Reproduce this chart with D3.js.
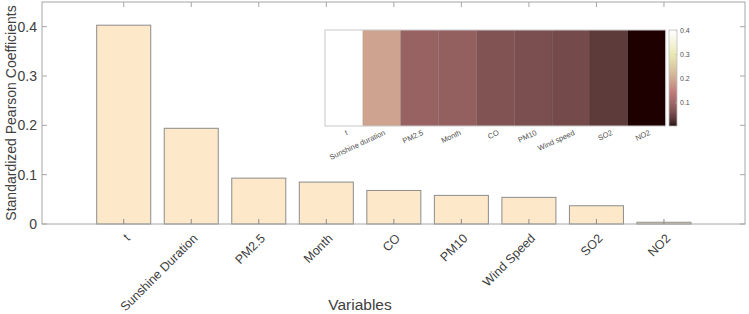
<!DOCTYPE html>
<html>
<head>
<meta charset="utf-8">
<script src="https://cdn.jsdelivr.net/npm/d3@7"></script>
<style>
  html, body { margin: 0; padding: 0; background: #fff; }
  svg { display: block; font-family: "Liberation Sans", Arial, sans-serif; }
</style>
</head>
<body>
<div id="chart"></div>
<script>
// 变量及标准化皮尔逊系数
const categories = ["t", "Sunshine Duration", "PM2.5", "Month", "CO", "PM10", "Wind Speed", "SO2", "NO2"];
const heatLabels = ["t", "Sunshine duration", "PM2.5", "Month", "CO", "PM10", "Wind speed", "SO2", "NO2"];
const coefficients = [0.403, 0.194, 0.093, 0.085, 0.068, 0.058, 0.054, 0.037, 0.0035];
const yTicks = [0, 0.1, 0.2, 0.3, 0.4];
const cbTicks = [0.1, 0.2, 0.3, 0.4];

const width = 749, height = 314;
const margin = {top: 2, right: 4, bottom: 90, left: 42};
const plotW = width - margin.left - margin.right;
const plotH = height - margin.top - margin.bottom;

const axisColor = '#a6a6a6';
const textColor = '#404040';

// MATLAB pink colormap (64 levels)
function pinkColor(t) {
    const m = 64;
    let i = Math.round(t * (m - 1));
    i = Math.max(0, Math.min(m - 1, i));
    const n = Math.floor(3 / 8 * m);
    const g0 = i / (m - 1);
    const hr = i < n ? (i + 1) / n : 1;
    const hg = i < n ? 0 : (i < 2 * n ? (i - n + 1) / n : 1);
    const hb = i < 2 * n ? 0 : (i - 2 * n + 1) / (m - 2 * n);
    const f = v => Math.round(255 * Math.sqrt((2 * g0 + v) / 3));
    return `rgb(${f(hr)},${f(hg)},${f(hb)})`;
}

const svg = d3.select('#chart')
    .append('svg')
    .attr('width', width)
    .attr('height', height);

const g = svg.append('g')
    .attr('transform', `translate(${margin.left},${margin.top})`);

const x = d3.scaleLinear()
    .domain([-0.21, 10.2])
    .range([0, plotW]);

const y = d3.scaleLinear()
    .domain([0, 0.45])
    .range([plotH, 0]);

const barW = x(0.8) - x(0);

// 柱子
g.selectAll('rect.bar')
    .data(coefficients)
    .join('rect')
    .attr('class', 'bar')
    .attr('x', (d, i) => x(i + 1) - barW / 2)
    .attr('y', d => y(d))
    .attr('width', barW)
    .attr('height', d => plotH - y(d))
    .attr('fill', '#fde9c9')
    .attr('stroke', '#8c8c8c')
    .attr('stroke-width', 1);

// 坐标轴框
g.append('rect')
    .attr('x', 0).attr('y', 0)
    .attr('width', plotW).attr('height', plotH)
    .attr('fill', 'none')
    .attr('stroke', axisColor)
    .attr('stroke-width', 1);

const tickLen = 5;
// x 刻度（上下，向内）
categories.forEach((c, i) => {
    const xp = x(i + 1);
    g.append('line').attr('x1', xp).attr('x2', xp).attr('y1', plotH).attr('y2', plotH - tickLen).attr('stroke', '#8c8c8c');
    g.append('line').attr('x1', xp).attr('x2', xp).attr('y1', 0).attr('y2', tickLen).attr('stroke', axisColor);
});
// y 刻度（左右，向内）
yTicks.forEach(v => {
    const yp = y(v);
    g.append('line').attr('x1', 0).attr('x2', tickLen).attr('y1', yp).attr('y2', yp).attr('stroke', axisColor);
    g.append('line').attr('x1', plotW).attr('x2', plotW - tickLen).attr('y1', yp).attr('y2', yp).attr('stroke', axisColor);
});

// y 刻度标签
g.selectAll('text.ytick')
    .data(yTicks)
    .join('text')
    .attr('class', 'ytick')
    .attr('x', -5)
    .attr('y', d => y(d))
    .attr('dy', '0.35em')
    .attr('text-anchor', 'end')
    .attr('fill', textColor)
    .style('font-size', '14px')
    .text(d => d === 0 ? '0' : d.toFixed(1));

// x 刻度标签
g.selectAll('text.xtick')
    .data(categories)
    .join('text')
    .attr('class', 'xtick')
    .attr('transform', (d, i) => `translate(${x(i + 1) + 4},${plotH + 12}) rotate(-45)`)
    .attr('text-anchor', 'end')
    .attr('dy', '0.35em')
    .attr('fill', textColor)
    .style('font-size', '12.5px')
    .text(d => d);

// 轴标题
svg.append('text')
    .attr('x', 360)
    .attr('y', 310)
    .attr('text-anchor', 'middle')
    .attr('fill', textColor)
    .style('font-size', '15.5px')
    .text('Variables');

svg.append('text')
    .attr('transform', `translate(11,${margin.top + plotH / 2}) rotate(-90)`)
    .attr('text-anchor', 'middle')
    .attr('dy', '0.35em')
    .attr('fill', textColor)
    .style('font-size', '14px')
    .text('Standardized Pearson Coefficients');

// 内嵌热力图
const hx0 = 325, hx1 = 665.7, hy0 = 30, hy1 = 126;
const hx = d3.scaleBand()
    .domain(heatLabels)
    .range([hx0, hx1]);
const cmin = d3.min(coefficients), cmax = d3.max(coefficients);
const cnorm = d3.scaleLinear().domain([cmin, cmax]).range([0, 1]);

svg.selectAll('rect.cell')
    .data(coefficients)
    .join('rect')
    .attr('class', 'cell')
    .attr('x', (d, i) => hx(heatLabels[i]))
    .attr('y', hy0)
    .attr('width', hx.bandwidth())
    .attr('height', hy1 - hy0)
    .attr('fill', d => pinkColor(cnorm(d)))
    .attr('stroke', 'rgba(0,0,0,0.12)')
    .attr('stroke-width', 0.6);

svg.append('rect')
    .attr('x', hx0).attr('y', hy0)
    .attr('width', hx1 - hx0).attr('height', hy1 - hy0)
    .attr('fill', 'none')
    .attr('stroke', '#cfcfcf')
    .attr('stroke-width', 1);

svg.selectAll('text.hlabel')
    .data(heatLabels)
    .join('text')
    .attr('class', 'hlabel')
    .attr('transform', d => `translate(${hx(d) + hx.bandwidth() / 2 + 3},${hy1 + 6}) rotate(-25)`)
    .attr('text-anchor', 'end')
    .attr('dy', '0.35em')
    .attr('fill', '#505050')
    .style('font-size', '7.5px')
    .text(d => d);

// 色条
const cbX = 669, cbW = 8;
const cy = d3.scaleLinear().domain([cmin, cmax]).range([hy1, hy0]);
const grad = svg.append('defs').append('linearGradient')
    .attr('id', 'cbgrad')
    .attr('x1', 0).attr('y1', 1).attr('x2', 0).attr('y2', 0);
d3.range(0, 64).forEach(i => {
    grad.append('stop').attr('offset', i / 63).attr('stop-color', pinkColor(i / 63));
});
svg.append('rect')
    .attr('x', cbX).attr('y', hy0)
    .attr('width', cbW).attr('height', hy1 - hy0)
    .attr('fill', 'url(#cbgrad)')
    .attr('stroke', '#bdbdbd')
    .attr('stroke-width', 0.8);
cbTicks.forEach(v => {
    svg.append('line').attr('x1', cbX + cbW).attr('x2', cbX + cbW - 2)
        .attr('y1', cy(v)).attr('y2', cy(v)).attr('stroke', '#bdbdbd').attr('stroke-width', 0.6);
});
svg.selectAll('text.cbtick')
    .data(cbTicks)
    .join('text')
    .attr('class', 'cbtick')
    .attr('x', cbX + cbW + 3)
    .attr('y', d => cy(d))
    .attr('dy', '0.35em')
    .attr('fill', '#505050')
    .style('font-size', '7px')
    .text(d => d.toFixed(1));
</script>
</body>
</html>
